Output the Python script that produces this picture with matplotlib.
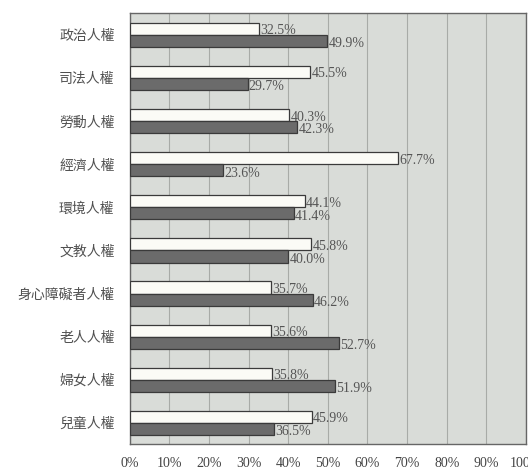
import numpy as np
import matplotlib.pyplot as plt

plt.rcParams['font.family'] = ['Noto Sans CJK TC', 'DejaVu Sans']

# categories, top to bottom
categories = ['政治人權', '司法人權', '勞動人權', '經濟人權', '環境人權',
              '文教人權', '身心障礙者人權', '老人人權', '婦女人權', '兒童人權']
white_vals = [32.5, 45.5, 40.3, 67.7, 44.1, 45.8, 35.7, 35.6, 35.8, 45.9]
dark_vals = [49.9, 29.7, 42.3, 23.6, 41.4, 40.0, 46.2, 52.7, 51.9, 36.5]
xticks = [0, 10, 20, 30, 40, 50, 60, 70, 80, 90, 100]
xtick_labels = ['0%', '10%', '20%', '30%', '40%', '50%', '60%', '70%', '80%', '90%', '100%']

fig = plt.figure(figsize=(5.28, 4.71), dpi=100)
ax = fig.add_axes([0.246, 0.057, 0.75, 0.915])
ax.set_facecolor('#d9dcd8')

y = np.arange(len(categories))
h = 0.28
ax.barh(y - 0.135, white_vals, height=h, color='#fbfbf6', edgecolor='#3a3a3a', linewidth=0.9, zorder=3)
ax.barh(y + 0.145, dark_vals, height=h, color='#6b6b6b', edgecolor='#3a3a3a', linewidth=0.9, zorder=3)

# value labels just past the end of each bar
for i in range(len(categories)):
    ax.text(white_vals[i] + 0.3, y[i] - 0.09, '%.1f%%' % white_vals[i],
            family='Liberation Serif', fontsize=10, color='#555555', va='center', ha='left', zorder=4)
    ax.text(dark_vals[i] + 0.3, y[i] + 0.21, '%.1f%%' % dark_vals[i],
            family='Liberation Serif', fontsize=10, color='#555555', va='center', ha='left', zorder=4)

ax.set_xlim(0, 100)
ax.set_ylim(len(categories) - 0.5, -0.5)
ax.set_xticks(xticks)
ax.set_xticklabels(xtick_labels, family='Liberation Serif', fontsize=10, color='#444444')
ax.set_yticks(y)
ax.set_yticklabels(categories, fontsize=10, color='#505050')
ax.tick_params(axis='x', length=0, pad=9)
ax.tick_params(axis='y', length=0, pad=11)
ax.grid(axis='x', color='#a8aba7', linewidth=0.8, zorder=1)
for s in ax.spines.values():
    s.set_color('#666666')
    s.set_linewidth(1.0)

fig.savefig('out.png', dpi=100)
